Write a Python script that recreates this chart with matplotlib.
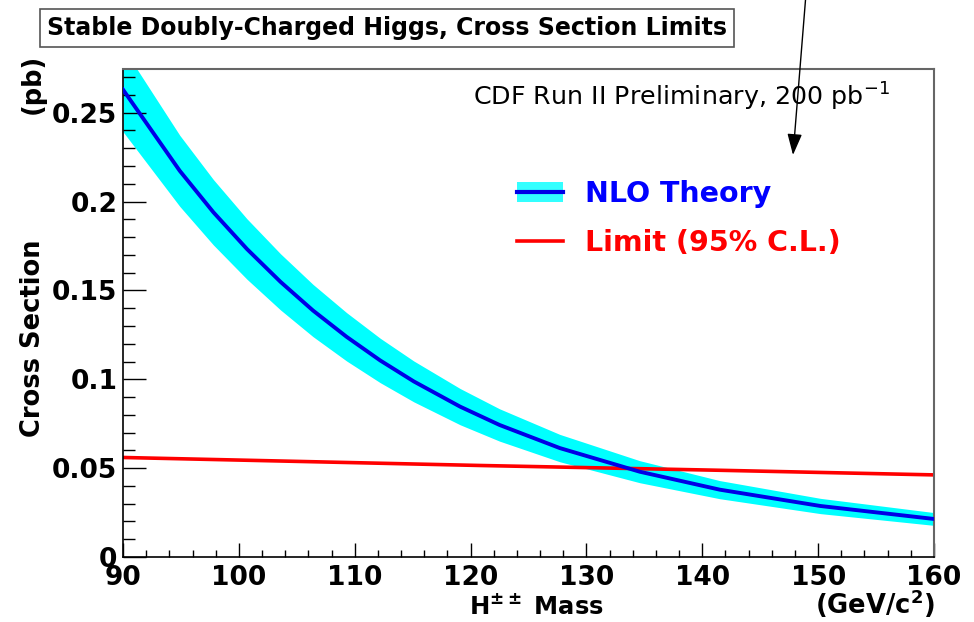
import matplotlib
matplotlib.use('Agg')
import matplotlib.pyplot as plt
from matplotlib.patches import Patch
from matplotlib.lines import Line2D
from matplotlib.ticker import MultipleLocator

plt.rcParams['font.family'] = ['DejaVu Sans']
plt.rcParams['mathtext.default'] = 'regular'

# H++ mass (GeV/c^2) and NLO cross section (pb)
mass = [90, 94.9, 97.8, 100.7, 103.6, 106.4, 109.3, 112.2, 115.1, 119.1,
        122.5, 127.7, 134.6, 141.5, 150.2, 160]
nlo = [0.263, 0.2173, 0.1940, 0.1733, 0.1548, 0.1387, 0.1239, 0.1106, 0.0988,
       0.0846, 0.0743, 0.0613, 0.0480, 0.0379, 0.0287, 0.0214]
nlo_low = [0.2393, 0.1973, 0.1756, 0.1563, 0.1390, 0.1240, 0.1103, 0.0981,
           0.0873, 0.0744, 0.0652, 0.0536, 0.0418, 0.0328, 0.0244, 0.0178]
nlo_high = [0.2867, 0.2373, 0.2124, 0.1903, 0.1706, 0.1534, 0.1375, 0.1231,
            0.1103, 0.0948, 0.0834, 0.0690, 0.0542, 0.0430, 0.0330, 0.0250]

# 95% C.L. limit
limit_mass = [90, 120.8, 141.5, 160]
limit = [0.0560, 0.0515, 0.0488, 0.0462]

yticks = [0, 0.05, 0.1, 0.15, 0.2, 0.25]
ytick_labels = ['0', '0.05', '0.1', '0.15', '0.2', '0.25']

W, H = 974, 622
fig = plt.figure(figsize=(W / 100, H / 100), dpi=100)
ax = fig.add_axes([123 / W, 1 - 557 / H, (934 - 123) / W, (557 - 69) / H])

ax.fill_between(mass, nlo_low, nlo_high, color='#00ffff', lw=0, zorder=1)
ax.plot(limit_mass, limit, color='#ff0000', lw=2.6, zorder=2)
ax.plot(mass, nlo, color='#0000e6', lw=2.8, zorder=3)

ax.set_xlim(90, 160)
ax.set_ylim(0, 0.2746)
ax.xaxis.set_major_locator(MultipleLocator(10))
ax.xaxis.set_minor_locator(MultipleLocator(2))
ax.yaxis.set_minor_locator(MultipleLocator(0.01))
ax.set_yticks(yticks)
ax.set_yticklabels(ytick_labels)

ax.tick_params(axis='both', which='both', direction='in', top=False,
               right=False, labelsize=19, color='black')
ax.tick_params(axis='y', which='major', length=16.5, width=1, pad=4)
ax.tick_params(axis='y', which='minor', length=8.5, width=1)
ax.tick_params(axis='x', which='major', length=10, width=1, pad=6)
ax.tick_params(axis='x', which='minor', length=5, width=1)
for lab in ax.get_xticklabels() + ax.get_yticklabels():
    lab.set_fontweight('bold')

for side in ['left', 'bottom']:
    ax.spines[side].set_color('black')
    ax.spines[side].set_linewidth(1.2)
for side in ['top', 'right']:
    ax.spines[side].set_color('#666666')
    ax.spines[side].set_linewidth(1.5)

# axis titles
fig.text(33 / W, 1 - 338 / H, 'Cross Section', rotation=90, ha='center',
         va='center', fontsize=18.5, fontweight='bold')
fig.text(33 / W, 1 - 84 / H, '(pb)', rotation=90, ha='center', va='center',
         fontsize=18.5, fontweight='bold')
fig.text(536 / W, 1 - 606 / H, r'H$^{\pm\pm}$ Mass', ha='center',
         va='center', fontsize=17.5, fontweight='bold')
fig.text(935 / W, 1 - 604 / H, r'(GeV/c$^{2}$)', ha='right', va='center',
         fontsize=18.5, fontweight='bold')

# title box
fig.text(387 / W, 1 - 28 / H, 'Stable Doubly-Charged Higgs, Cross Section Limits',
         ha='center', va='center', fontsize=17, fontweight='bold',
         bbox=dict(boxstyle='square,pad=0.3', facecolor='white',
                   edgecolor='#555555', linewidth=1.2))

fig.text(890 / W, 1 - 97 / H, r'CDF Run II Preliminary, 200 pb$^{-1}$',
         ha='right', va='center', fontsize=18.3)

# arrow
ax.annotate('', xy=(793 / W, 1 - 155 / H), xycoords='figure fraction',
            xytext=(806 / W, 1.01), textcoords='figure fraction',
            arrowprops=dict(arrowstyle='-|>,head_length=1.3,head_width=0.45',
                            color='black', lw=1, shrinkA=0, shrinkB=0))

handles = [(Patch(facecolor='#33ffff', edgecolor='none'),
            Line2D([], [], color='#0000e6', lw=3)),
           Line2D([], [], color='#ff0000', lw=2.6)]
leg = ax.legend(handles, ['NLO Theory', 'Limit (95% C.L.)'],
                loc='upper left', bbox_to_anchor=(517 / W, 1 - 180 / H),
                bbox_transform=fig.transFigure, frameon=False,
                borderpad=0, borderaxespad=0, handlelength=1.6,
                handletextpad=0.8, labelspacing=0.75,
                prop={'size': 20.5, 'weight': 'bold'})
for txt, col in zip(leg.get_texts(), ['#0000ff', '#ff0000']):
    txt.set_color(col)

fig.savefig('out.png', dpi=100)
